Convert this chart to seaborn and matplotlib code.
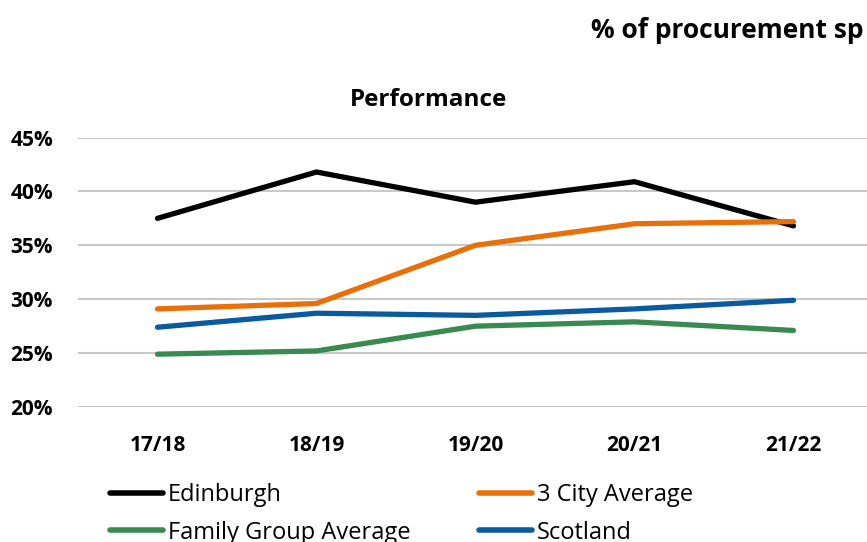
import pandas as pd
import matplotlib
matplotlib.use("Agg")
import matplotlib.pyplot as plt
import seaborn as sns

# chart data (values in %)
years = ["17/18", "18/19", "19/20", "20/21", "21/22"]
edinburgh = [37.5, 41.8, 39.0, 40.9, 36.8]
three_city = [29.1, 29.6, 35.0, 37.0, 37.2]
family_group = [24.9, 25.2, 27.5, 27.9, 27.1]
scotland = [27.4, 28.7, 28.5, 29.1, 29.9]
y_ticks = [20, 25, 30, 35, 40, 45]

series = {
    "Edinburgh": edinburgh,
    "3 City Average": three_city,
    "Family Group Average": family_group,
    "Scotland": scotland,
}
palette = {
    "Edinburgh": "#000000",
    "3 City Average": "#E8700A",
    "Family Group Average": "#388A50",
    "Scotland": "#0A5AA0",
}

df = pd.concat(
    [pd.DataFrame({"year": years, "value": vals, "series": name}) for name, vals in series.items()],
    ignore_index=True,
)

sns.set_theme(style="white")
plt.rcParams["font.family"] = ["Open Sans", "DejaVu Sans"]
plt.rcParams["text.color"] = "black"
plt.rcParams["xtick.color"] = "black"
plt.rcParams["ytick.color"] = "black"

fig = plt.figure(figsize=(8.67, 5.42), dpi=100)
ax = fig.add_axes([78 / 867, 1 - 407 / 542, 795 / 867, (407 - 137.5) / 542])

sns.lineplot(data=df, x="year", y="value", hue="series", palette=palette,
             hue_order=list(series.keys()), sort=False, linewidth=3.8,
             solid_capstyle="round", ax=ax, legend=False)

ax.set_xlim(-0.5, len(years) - 0.5)
ax.set_ylim(20, 45)
ax.set_yticks(y_ticks)
ax.set_yticklabels([f"{t}%" for t in y_ticks], fontsize=15, fontweight="bold")
ax.set_xticks(range(len(years)))
ax.set_xticklabels(years, fontsize=15, fontweight="bold")
ax.tick_params(axis="x", pad=20, length=0)
ax.tick_params(axis="y", pad=18, length=0)
ax.yaxis.grid(True, color="#C8C8C8", linewidth=1.5)
ax.xaxis.grid(False)
ax.set_axisbelow(True)
for s in ax.spines.values():
    s.set_visible(False)
ax.set_xlabel("")
ax.set_ylabel("")

fig.text(428 / 867, 1 - 100 / 542, "Performance", ha="center", va="center",
         fontsize=17.5, fontweight="bold")
# the title runs off the right edge in the source image
fig.text(591 / 867, 1 - 31 / 542, "% of procurement sp",
         ha="left", va="center", fontsize=19, fontweight="bold")

# row-major order: Edinburgh / 3 City on top row
order = ["Edinburgh", "Family Group Average", "3 City Average", "Scotland"]
handles = [plt.Line2D([], [], color=palette[n], linewidth=4, solid_capstyle="round")
           for n in order]
fig.legend(handles, order, loc="upper left",
           bbox_to_anchor=(110 / 867, 1 - 483 / 542), ncol=2, frameon=False,
           fontsize=17, handlelength=2.25, handletextpad=0.2,
           columnspacing=2.9, labelspacing=0.58, borderpad=0, borderaxespad=0)

fig.savefig("out.png", dpi=100)
